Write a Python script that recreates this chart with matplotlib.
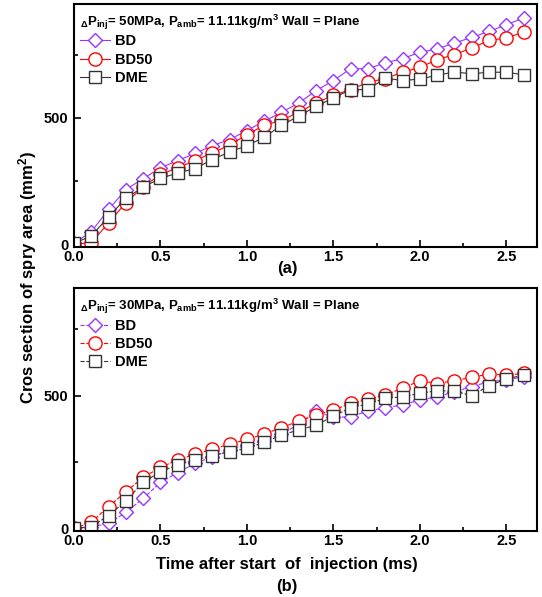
import matplotlib
matplotlib.use("Agg")
import matplotlib.pyplot as plt
from matplotlib.ticker import MultipleLocator

plt.rcParams["font.family"] = ["Liberation Sans", "DejaVu Sans"]
plt.rcParams["font.weight"] = "bold"
plt.rcParams["mathtext.fontset"] = "custom"
plt.rcParams["mathtext.rm"] = "Liberation Sans:bold"
plt.rcParams["mathtext.bf"] = "Liberation Sans:bold"
plt.rcParams["mathtext.it"] = "Liberation Sans:bold"

time_ms = [0.0, 0.1, 0.2, 0.3, 0.4, 0.5, 0.6, 0.7, 0.8, 0.9, 1.0, 1.1, 1.2, 1.3,
           1.4, 1.5, 1.6, 1.7, 1.8, 1.9, 2.0, 2.1, 2.2, 2.3, 2.4, 2.5, 2.6]

# (a) 50 MPa
bd_50mpa = [3, 49, 137, 216, 259, 302, 331, 359, 390, 414, 450, 487, 522, 559,
            608, 648, 695, 695, 718, 735, 760, 773, 797, 819, 843, 869, 896]
bd50_50mpa = [0, 5, 84, 164, 226, 276, 302, 331, 361, 392, 434, 470, 491, 522,
              559, 590, 612, 641, 656, 681, 700, 731, 751, 777, 807, 817, 840]
dme_50mpa = [3, 32, 108, 181, 226, 260, 282, 299, 335, 365, 390, 423, 471, 507,
             546, 579, 612, 612, 658, 648, 654, 669, 682, 675, 681, 681, 671]

# (b) 30 MPa
bd_30mpa = [0, 5, 19, 60, 113, 173, 210, 245, 270, 295, 314, 330, 356, 392,
            442, 418, 421, 442, 455, 465, 484, 496, 515, 534, 553, 559, 572]
bd50_30mpa = [0, 23, 82, 138, 192, 230, 258, 280, 298, 318, 335, 356, 379, 405,
              427, 446, 471, 486, 503, 528, 557, 546, 557, 569, 582, 578, 584]
dme_30mpa = [0, 6, 48, 104, 173, 214, 239, 258, 274, 289, 302, 324, 352, 371,
             389, 423, 455, 469, 490, 496, 509, 519, 518, 500, 538, 563, 578]

labels = ["BD", "BD50", "DME"]
colors = ["#9933ff", "#ff0000", "#333333"]
markers = ["D", "o", "s"]
msizes = [7.5, 9.5, 8]

fig = plt.figure(figsize=(5.42, 5.97), dpi=100)
ax_a = fig.add_axes([0.1365, 0.587, 0.855, 0.4065])
ax_b = fig.add_axes([0.1365, 0.111, 0.855, 0.4065])

panels = [
    (ax_a, [bd_50mpa, bd50_50mpa, dme_50mpa], "-", "50MPa", (-10, 952)),
    (ax_b, [bd_30mpa, bd50_30mpa, dme_30mpa], "--", "30MPa", (-9, 906)),
]

for ax, series, ls, pinj, ylim in panels:
    for vals, lab, c, m, ms in zip(series, labels, colors, markers, msizes):
        ax.plot(time_ms, vals, ls=ls, lw=0.8, color=c, marker=m, ms=ms,
                mfc="white", mec=c, mew=1.0, label=lab)
    ax.set_xlim(0, 2.68)
    ax.set_ylim(*ylim)
    ax.xaxis.set_major_locator(MultipleLocator(0.5))
    ax.xaxis.set_minor_locator(MultipleLocator(0.25))
    ax.yaxis.set_major_locator(MultipleLocator(500))
    ax.yaxis.set_minor_locator(MultipleLocator(250))
    ax.tick_params(which="both", direction="in", top=False, right=False,
                   labelsize=10.5, width=1.2)
    ax.tick_params(axis="x", pad=2.5)
    ax.tick_params(axis="y", pad=4)
    ax.tick_params(which="major", length=5)
    ax.tick_params(which="minor", length=3)
    for lbl in ax.get_xticklabels() + ax.get_yticklabels():
        lbl.set_fontweight("bold")
    for sp in ax.spines.values():
        sp.set_linewidth(1.5)
    ax.text(0.012, 0.965,
            r"$_{\Delta}$P$_{\mathrm{inj}}$= " + pinj
            + r", P$_{\mathrm{amb}}$= 11.11kg/m$^{3}$ Wall = Plane",
            transform=ax.transAxes, ha="left", va="top", fontsize=9.5,
            fontweight="bold")
    ax.legend(loc="upper left", bbox_to_anchor=(-0.005, 0.91), frameon=False,
              prop={"weight": "bold", "size": 10.5}, handlelength=2.0,
              handletextpad=0.4, labelspacing=0.3, borderaxespad=0.2)

fig.text(0.53, 0.55, "(a)", ha="center", va="center", fontsize=12,
         fontweight="bold")
fig.text(0.53, 0.055, "Time after start  of  injection (ms)", ha="center",
         va="center", fontsize=12, fontweight="bold")
fig.text(0.53, 0.018, "(b)", ha="center", va="center", fontsize=12,
         fontweight="bold")
fig.text(0.05, 0.535, r"Cros section of spry area (mm$^{2}$)", ha="center",
         va="center", rotation=90, fontsize=12, fontweight="bold")

fig.savefig("out.png", dpi=100)
